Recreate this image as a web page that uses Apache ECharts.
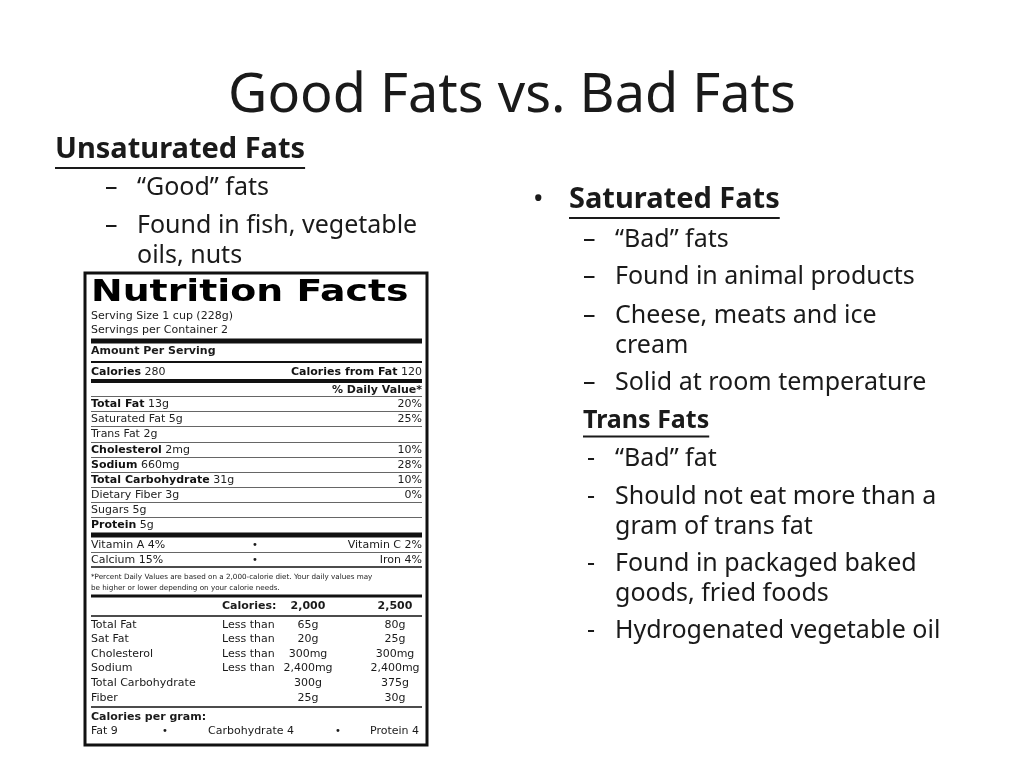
<!doctype html>
<html>
<head>
<meta charset="utf-8">
<title>Good Fats vs. Bad Fats</title>
<script src="https://cdn.jsdelivr.net/npm/echarts@6/dist/echarts.min.js"></script>
<style>html,body{margin:0;background:#fff}</style>
</head>
<body>
<div id="main" style="width:1024px;height:768px;"></div>
<script>
// slide text
var title = 'Good Fats vs. Bad Fats';
var leftHead = 'Unsaturated Fats';
var leftItems = [['“Good” fats', 188], ['Found in fish, vegetable', 226], ['oils, nuts', 256, true]];
var rightHead = 'Saturated Fats';
var rightItems = [['“Bad” fats', 240], ['Found in animal products', 277], ['Cheese, meats and ice', 316], ['cream', 346, true], ['Solid at room temperature', 383]];
var transHead = 'Trans Fats';
var transItems = [['“Bad” fat', 459], ['Should not eat more than a', 497], ['gram of trans fat', 527, true], ['Found in packaged baked', 564], ['goods, fried foods', 594, true], ['Hydrogenated vegetable oil', 631]];

// nutrition label rows: [bold part, normal part, right value, y]
var nutrientRows = [
    ['Total Fat', ' 13g', '20%', 404],
    ['', 'Saturated Fat 5g', '25%', 419],
    ['', 'Trans Fat 2g', '', 434],
    ['Cholesterol', ' 2mg', '10%', 450],
    ['Sodium', ' 660mg', '28%', 465],
    ['Total Carbohydrate', ' 31g', '10%', 480],
    ['', 'Dietary Fiber 3g', '0%', 495],
    ['', 'Sugars 5g', '', 510],
    ['Protein', ' 5g', '', 525]
];
var vitaminRows = [['Vitamin A 4%', 'Vitamin C 2%', 545], ['Calcium 15%', 'Iron 4%', 560]];
var dailyRows = [
    ['Total Fat', 'Less than', '65g', '80g', 625],
    ['Sat Fat', 'Less than', '20g', '25g', 639],
    ['Cholesterol', 'Less than', '300mg', '300mg', 654],
    ['Sodium', 'Less than', '2,400mg', '2,400mg', 668],
    ['Total Carbohydrate', '', '300g', '375g', 683],
    ['Fiber', '', '25g', '30g', 698]
];

var SF = '"Noto Sans", sans-serif';
var LF = '"DejaVu Sans", Verdana, sans-serif';
var LS = 11;
var ctx = document.createElement('canvas').getContext('2d');
function textWidth(t, font) { ctx.font = font; return ctx.measureText(t).width; }

var g = [];
function txt(x, y, t, size, opt) {
    opt = opt || {};
    g.push({type: 'text', x: x, y: y, scaleX: opt.scaleX || 1, style: {
        text: t, fontSize: size, fontFamily: opt.family || SF, fontWeight: opt.weight || 'normal',
        fill: opt.fill || '#1a1a1a', align: opt.align || 'left', verticalAlign: 'middle', rich: opt.rich
    }});
}
function line(x1, y1, x2, y2, w, c) {
    g.push({type: 'line', shape: {x1: x1, y1: y1, x2: x2, y2: y2}, style: {stroke: c || '#111', lineWidth: w}});
}
function underlined(x, y, t, size) {
    txt(x, y, t, size, {weight: 'bold'});
    var w = textWidth(t, 'bold ' + size + 'px ' + SF);
    line(x, y + size * 0.62, x + w, y + size * 0.62, 2, '#1a1a1a');
}

txt(512, 97, title, 54, {align: 'center'});

underlined(55, 150, leftHead, 29);
leftItems.forEach(function (d) {
    if (!d[2]) txt(105, d[1], '–', 25);
    txt(137, d[1], d[0], 25);
});

txt(533, 200, '•', 28);
underlined(569, 200, rightHead, 29);
rightItems.forEach(function (d) {
    if (!d[2]) txt(583, d[1], '–', 25);
    txt(615, d[1], d[0], 25);
});
underlined(583, 421, transHead, 25);
transItems.forEach(function (d) {
    if (!d[2]) txt(587, d[1], '-', 25);
    txt(615, d[1], d[0], 25);
});

// nutrition label
var L = 91, R = 422;
g.push({type: 'rect', shape: {x: 85, y: 273, width: 342, height: 472}, style: {fill: '#fff', stroke: '#111', lineWidth: 3}});
txt(L, 293, 'Nutrition Facts', 31, {family: '"DejaVu Sans", sans-serif', weight: 'bold', fill: '#000', scaleX: 1.22});
txt(L, 316, 'Serving Size 1 cup (228g)', LS, {family: LF});
txt(L, 330, 'Servings per Container 2', LS, {family: LF});
line(L, 341, R, 341, 5);
txt(L, 351, 'Amount Per Serving', LS, {family: LF, weight: 'bold'});
line(L, 362, R, 362, 2);
var rich = {b: {fontWeight: 'bold', fontFamily: LF, fontSize: LS, fill: '#111'}, n: {fontFamily: LF, fontSize: LS, fill: '#222'}};
txt(L, 372, '{b|Calories} {n|280}', LS, {family: LF, rich: rich});
txt(R, 372, '{b|Calories from Fat} {n|120}', LS, {family: LF, rich: rich, align: 'right'});
line(L, 381, R, 381, 4);
txt(R, 390, '% Daily Value*', LS, {family: LF, weight: 'bold', align: 'right'});
nutrientRows.forEach(function (d) {
    line(L, d[3] - 7.5, R, d[3] - 7.5, 1, '#666');
    var s = (d[0] ? '{b|' + d[0] + '}' : '') + '{n|' + d[1] + '}';
    txt(L, d[3], s, LS, {family: LF, rich: rich});
    if (d[2]) txt(R, d[3], d[2], LS, {family: LF, align: 'right'});
});
line(L, 535, R, 535, 5);
vitaminRows.forEach(function (d, i) {
    if (i) line(L, d[2] - 7.5, R, d[2] - 7.5, 1, '#666');
    txt(L, d[2], d[0], LS, {family: LF});
    txt(255, d[2], '•', 10, {family: LF, align: 'center'});
    txt(R, d[2], d[1], LS, {family: LF, align: 'right'});
});
line(L, 567, R, 567, 1.5);
txt(L, 577, '*Percent Daily Values are based on a 2,000-calorie diet. Your daily values may', 7.2, {family: LF});
txt(L, 588, 'be higher or lower depending on your calorie needs.', 7.2, {family: LF});
line(L, 596, R, 596, 3);
txt(222, 606, 'Calories:', LS, {family: LF, weight: 'bold'});
txt(308, 606, '2,000', LS, {family: LF, weight: 'bold', align: 'center'});
txt(395, 606, '2,500', LS, {family: LF, weight: 'bold', align: 'center'});
line(L, 616, R, 616, 1.5);
dailyRows.forEach(function (d) {
    txt(L, d[4], d[0], LS, {family: LF});
    if (d[1]) txt(222, d[4], d[1], LS, {family: LF});
    txt(308, d[4], d[2], LS, {family: LF, align: 'center'});
    txt(395, d[4], d[3], LS, {family: LF, align: 'center'});
});
line(L, 707, R, 707, 1.5);
txt(L, 717, 'Calories per gram:', LS, {family: LF, weight: 'bold'});
txt(L, 731, 'Fat 9', LS, {family: LF});
txt(165, 731, '•', 10, {family: LF, align: 'center'});
txt(208, 731, 'Carbohydrate 4', LS, {family: LF});
txt(338, 731, '•', 10, {family: LF, align: 'center'});
txt(R - 3, 731, 'Protein 4', LS, {family: LF, align: 'right'});

echarts.init(document.getElementById('main')).setOption({
    backgroundColor: '#fff',
    graphic: {elements: g}
});
</script>
</body>
</html>
